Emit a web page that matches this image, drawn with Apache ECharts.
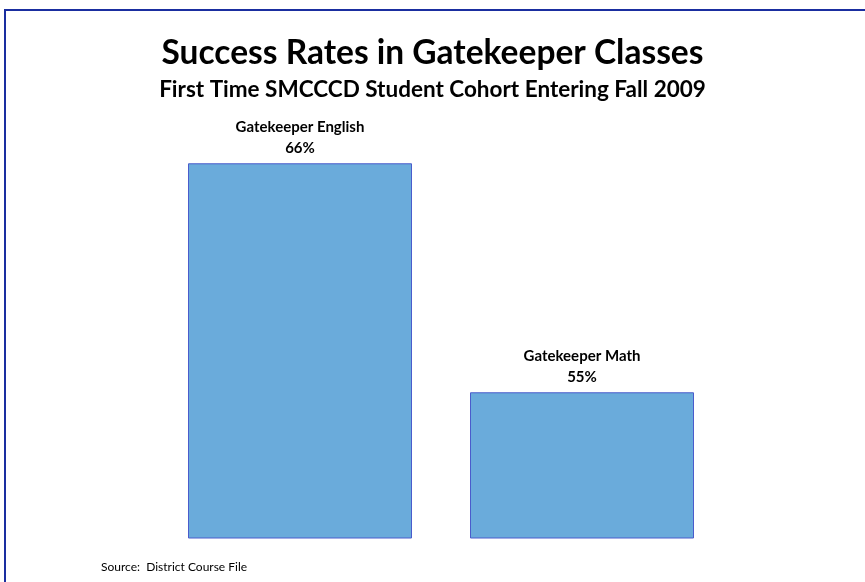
<!DOCTYPE html>
<html><head><meta charset="utf-8">
<script src="https://cdn.jsdelivr.net/npm/echarts@6/dist/echarts.min.js"></script>
<style>html,body{margin:0;padding:0;background:#fff}#c{width:865px;height:582px}</style>
</head><body><div id="c"></div>
<script>
const categories = ['Gatekeeper English', 'Gatekeeper Math'];
const values = [66, 55];
const titleText = 'Success Rates in Gatekeeper Classes';
const subtitleText = 'First Time SMCCCD Student Cohort Entering Fall 2009';
const sourceText = 'Source:  District Course File';

const chart = echarts.init(document.getElementById('c'), null, {renderer: 'canvas'});
const F = 'Lato, "Open Sans", sans-serif';
chart.setOption({
  backgroundColor: '#ffffff',
  animation: false,
  title: [
    {text: titleText, left: 'center', top: 31, textStyle: {fontFamily: F, fontWeight: 'bold', fontSize: 33.5, color: '#000'}},
    {text: subtitleText, left: 'center', top: 73, textStyle: {fontFamily: F, fontWeight: 'bold', fontSize: 22.5, color: '#000'}},
    {text: sourceText, left: 96, top: 556, textStyle: {fontFamily: F, fontWeight: 'normal', fontSize: 12, color: '#000'}}
  ],
  graphic: [
    {type: 'polyline', shape: {points: [[5, 582], [5, 10], [865, 10]]}, style: {stroke: '#1a2ea0', lineWidth: 2, fill: null}, silent: true}
  ],
  grid: {left: 159, right: 142, top: 80, bottom: 44},
  xAxis: {type: 'category', data: categories, axisLine: {show: false}, axisTick: {show: false}, axisLabel: {show: false}},
  yAxis: {type: 'value', min: 48, max: 70, show: false, splitLine: {show: false}},
  series: [{
    type: 'bar',
    data: values,
    barWidth: 224,
    itemStyle: {color: '#6aabdb', borderColor: '#4a5ccc', borderWidth: 1},
    label: {show: true, position: 'top', distance: 5, formatter: p => p.name + '\n' + p.value + '%',
      fontFamily: F, fontWeight: 'bold', fontSize: 15, lineHeight: 21, color: '#000', align: 'center'}
  }]
});
</script></body></html>
